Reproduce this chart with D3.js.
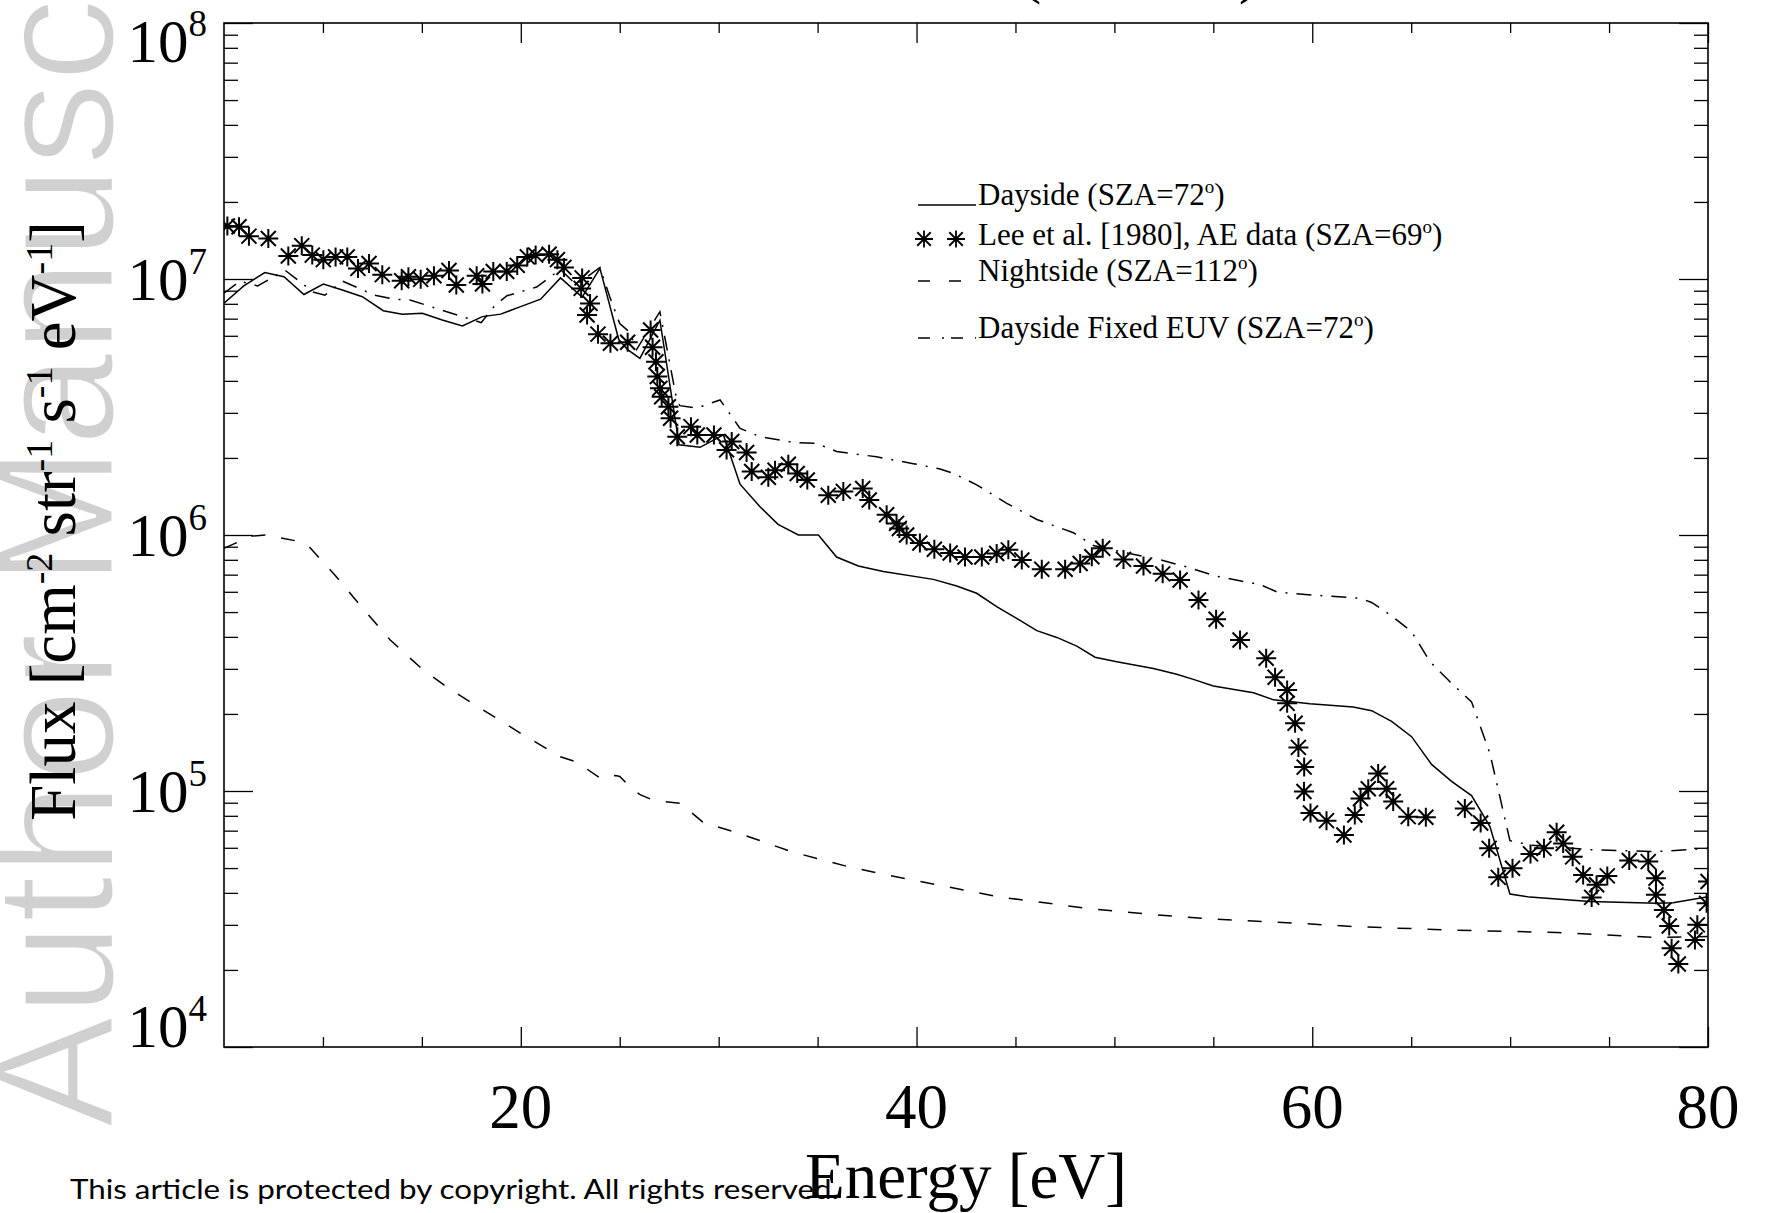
<!DOCTYPE html>
<html>
<head>
<meta charset="utf-8">
<script src="https://cdn.jsdelivr.net/npm/d3@7"></script>
<style>
  body { margin: 0; background: #fff; }
  svg { display: block; }
</style>
</head>
<body>
<svg id="chart" width="1766" height="1213"></svg>
<script>
// energy [eV] and flux [cm-2 str-1 s-1 eV-1]
var daysideEnergy = [5.0, 6.0, 7.06, 8.03, 9.04, 10.02, 10.98, 11.99, 13.05, 14.01,
    15.02, 16.03, 17.05, 18.06, 18.98, 19.99, 21.0, 22.01, 23.1, 24.0,
    24.95, 25.4, 26.02, 27.03, 28.0, 29.06, 30.24, 31.08, 32.09, 33.0,
    34.03, 35.04, 35.96, 37.06, 38.32, 40.85, 42.03, 43.04, 44.05, 45.06,
    46.08, 47.09, 48.1, 49.02, 50.12, 51.97, 53.15, 53.99, 55.0, 57.03,
    58.04, 59.88, 62.07, 63.0, 64.01, 65.02, 66.03, 67.04, 68.05, 68.98,
    69.99, 71.0, 74.03, 77.4, 78.24, 80.0]
var daysideFlux = [8.04e6, 9.4e6, 1.06e7, 1.02e7, 8.7e6, 9.55e6, 9.06e6, 8.53e6, 7.52e6, 7.29e6,
    7.35e6, 6.92e6, 6.55e6, 7.13e6, 7.29e6, 7.8e6, 8.34e6, 1.01e7, 8.5e6, 1.1e7,
    5.8e6, 5.3e6, 4.9e6, 6.9e6, 2.25e6, 2.2e6, 2.46e6, 1.58e6, 1.29e6, 1.1e6,
    1.0e6, 1.0e6, 8.2e5, 7.57e5, 7.2e5, 6.71e5, 6.32e5, 5.92e5, 5.25e5, 4.72e5,
    4.23e5, 3.98e5, 3.68e5, 3.33e5, 3.2e5, 3.01e5, 2.86e5, 2.73e5, 2.57e5, 2.42e5,
    2.27e5, 2.19e5, 2.13e5, 2.06e5, 1.87e5, 1.63e5, 1.27e5, 1.09e5, 9.6e4, 7.26e4,
    3.96e4, 3.85e4, 3.7e4, 3.64e4, 3.66e4, 3.86e4]

var fixedEnergy = [5.0, 5.8, 6.7, 8.1, 9.5, 10.1, 11.0, 12.6, 13.6, 14.4,
    16.8, 18.0, 18.7, 19.3, 20.8, 22.0, 22.8, 24.0, 24.5, 25.0,
    25.5, 25.85, 27.03, 27.88, 28.04, 28.89, 30.07, 31.08, 32.09, 33.77,
    34.95, 35.96, 37.98, 39.84, 41.19, 41.86, 43.04, 44.56, 46.08, 47.93,
    48.94, 50.62, 52.31, 53.66, 55.17, 57.36, 58.2, 59.05, 62.42, 63.0,
    64.01, 65.02, 65.95, 66.96, 68.05, 68.98, 69.99, 71.0, 74.03, 77.4, 80.0]
var fixedFlux = [8.8e6, 9.8e6, 9.4e6, 1.08e7, 8.9e6, 8.65e6, 9.8e6, 8.65e6, 8.34e6, 8.28e6,
    7.23e6, 6.75e6, 7.9e6, 8.6e6, 9.3e6, 1.09e7, 9.5e6, 1.11e7, 8.5e6, 6.7e6,
    6.2e6, 5.3e6, 7.45e6, 3.37e6, 3.2e6, 3.13e6, 3.37e6, 2.61e6, 2.42e6, 2.3e6,
    2.28e6, 2.12e6, 2.02e6, 1.9e6, 1.81e6, 1.74e6, 1.57e6, 1.33e6, 1.15e6, 1.02e6,
    9.1e5, 8.5e5, 8.0e5, 7.5e5, 6.9e5, 6.4e5, 6.0e5, 5.9e5, 5.66e5, 5.45e5,
    4.83e5, 4.19e5, 3.2e5, 2.67e5, 2.23e5, 1.4e5, 6.4e4, 6.15e4, 5.9e4, 5.8e4, 5.97e4]

var nightEnergy = [5.0, 6.4, 7.1, 8.6, 9.3, 10.6, 12.0, 13.4, 15.0, 16.2,
    17.5, 18.8, 20.1, 21.4, 22.0, 22.8, 24.04, 24.8, 25.0, 25.4,
    26.0, 26.7, 28.05, 28.5, 29.25, 30.75, 32.25, 33.65, 36.64, 39.6,
    44.14, 48.63, 51.73, 55.0, 59.38, 62.24, 67.29, 72.35, 77.4, 80.0]
var nightFlux = [8.87e5, 9.9e5, 1.0e6, 9.5e5, 9.0e5, 6.98e5, 5.18e5, 3.89e5, 3.0e5, 2.57e5,
    2.21e5, 1.92e5, 1.66e5, 1.45e5, 1.36e5, 1.3e5, 1.12e5, 1.15e5, 1.14e5, 1.06e5,
    9.7e4, 9.2e4, 8.96e4, 8.4e4, 7.5e4, 6.94e4, 6.34e4, 5.8e4, 5.04e4, 4.52e4,
    3.86e4, 3.48e4, 3.3e4, 3.16e4, 3.04e4, 2.95e4, 2.86e4, 2.8e4, 2.68e4, 2.7e4]

// Lee et al. [1980] AE data points
var leeEnergy = [5.17, 5.76, 6.26, 7.24, 8.25, 8.93, 9.46, 10.02, 10.64, 11.23,
    11.77, 12.33, 13.0, 13.98, 14.32, 14.94, 15.61, 16.37, 16.74, 17.77,
    18.06, 18.61, 19.29, 19.82, 20.33, 20.75, 21.43, 21.85, 22.18, 23.1,
    23.05, 23.5, 23.35, 23.9, 24.53, 25.4, 26.56, 26.66, 26.83, 26.9,
    27.03, 27.12, 27.46, 27.57, 27.91, 28.6, 28.92, 29.76, 30.66, 30.4,
    31.41, 31.67, 32.51, 32.85, 33.52, 33.97, 34.48, 35.54, 36.3, 37.28,
    37.61, 38.49, 38.99, 39.13, 39.5, 40.17, 40.9, 41.7, 42.45, 43.3,
    44.05, 44.64, 45.32, 46.33, 47.51, 48.27, 48.86, 49.41, 50.46, 51.47,
    52.44, 53.32, 54.25, 55.14, 56.35, 57.67, 58.12, 58.73, 58.73, 59.13,
    59.3, 59.59, 59.58, 59.91, 60.72, 61.6, 62.15, 62.44, 62.83, 63.33,
    63.76, 64.09, 64.85, 65.74, 67.71, 68.51, 68.94, 69.4, 70.12, 71.03,
    71.71, 72.35, 72.68, 73.16, 73.69, 74.12, 74.37, 74.91, 76.02, 76.98,
    77.37, 77.37, 77.77, 78.04, 78.16, 78.5, 79.34, 79.46, 79.93, 80.0]
var leeFlux = [1.61e7, 1.60e7, 1.47e7, 1.44e7, 1.23e7, 1.35e7, 1.24e7, 1.19e7, 1.22e7, 1.22e7,
    1.10e7, 1.15e7, 1.04e7, 9.85e6, 1.02e7, 9.97e6, 1.03e7, 1.08e7, 9.48e6, 1.03e7,
    9.56e6, 1.07e7, 1.07e7, 1.13e7, 1.22e7, 1.24e7, 1.25e7, 1.19e7, 1.11e7, 1.01e7,
    9.19e6, 8.03e6, 7.23e6, 6.09e6, 5.61e6, 5.66e6, 6.32e6, 5.41e6, 4.75e6, 4.16e6,
    3.74e6, 3.47e6, 3.17e6, 2.86e6, 2.42e6, 2.65e6, 2.46e6, 2.46e6, 2.32e6, 2.15e6,
    2.10e6, 1.77e6, 1.68e6, 1.79e6, 1.89e6, 1.74e6, 1.64e6, 1.43e6, 1.48e6, 1.52e6,
    1.37e6, 1.20e6, 1.11e6, 1.06e6, 1.00e6, 9.3e5, 8.8e5, 8.5e5, 8.2e5, 8.2e5,
    8.47e5, 8.75e5, 7.99e5, 7.35e5, 7.35e5, 7.74e5, 8.22e5, 8.87e5, 8.03e5, 7.57e5,
    7.05e5, 6.67e5, 5.57e5, 4.69e5, 3.89e5, 3.30e5, 2.78e5, 2.48e5, 2.20e5, 1.84e5,
    1.48e5, 1.24e5, 9.96e4, 8.2e4, 7.66e4, 6.73e4, 8.06e4, 9.35e4, 1.02e5, 1.17e5,
    1.02e5, 9.1e4, 7.94e4, 7.9e4, 8.55e4, 7.5e4, 5.97e4, 4.6e4, 4.99e4, 5.68e4,
    5.97e4, 6.9e4, 6.24e4, 5.53e4, 4.7e4, 3.84e4, 4.3e4, 4.66e4, 5.35e4, 5.3e4,
    4.56e4, 3.93e4, 3.43e4, 2.97e4, 2.43e4, 2.11e4, 2.62e4, 3.0e4, 3.64e4, 4.43e4]

// ticks and labels
var xMajorTicks = [20, 40, 60, 80]
var xMinorTicks = [10, 15, 25, 30, 35, 45, 50, 55, 65, 70, 75]
var yMajorTicks = [1e4, 1e5, 1e6, 1e7, 1e8]
var yExponents = ['4', '5', '6', '7', '8']
var legendLabels = ['Dayside (SZA=72°)', 'Lee et al. [1980], AE data (SZA=69°)',
    'Nightside (SZA=112°)', 'Dayside Fixed EUV (SZA=72°)']

var margin = {top: 23, right: 58, bottom: 166, left: 224},
    width = 1484,
    height = 1024;

var serif = "'Liberation Serif', 'Times New Roman', Times, serif";

var svg = d3.select('#chart');

// watermark (white outline thins the strokes)
svg.append('text')
    .attr('transform', 'translate(113,1128) rotate(-90)')
    .attr('font-family', "'Liberation Sans', Arial, sans-serif")
    .attr('font-size', 168)
    .attr('fill', '#d0d0d0')
    .attr('stroke', '#fff')
    .attr('stroke-width', 3)
    .text('Author Manuscript');

// title, cut by the top edge
svg.append('text')
    .attr('x', 1020)
    .attr('y', -9)
    .attr('font-family', serif)
    .attr('font-size', 64)
    .attr('textLength', 240)
    .attr('lengthAdjust', 'spacing')
    .text('(SZA=72°)');

var x = d3.scaleLinear()
    .domain([5, 80])
    .range([0, width]);

var y = d3.scaleLog()
    .domain([1e4, 1e8])
    .range([height, 0]);

var plot = svg.append('g')
    .attr('transform', 'translate(' + margin.left + ',' + margin.top + ')');

plot.append('clipPath').attr('id', 'clip')
    .append('rect')
    .attr('width', width)
    .attr('height', height);

// ticks (inward, IDL style)
function tickAxis(axis, values, size, ty) {
    plot.append('g')
        .attr('transform', 'translate(' + (ty[0]) + ',' + ty[1] + ')')
        .call(axis.tickValues(values).tickSize(-size).tickSizeOuter(0).tickFormat(''))
        .call(g => g.select('.domain').remove())
        .call(g => g.selectAll('line').attr('stroke-width', 1.3));
}
var yMinorTicks = y.ticks().filter(v => yMajorTicks.indexOf(v) < 0);

tickAxis(d3.axisBottom(x), xMinorTicks, 10, [0, height]);
tickAxis(d3.axisBottom(x), xMajorTicks, 20, [0, height]);
tickAxis(d3.axisTop(x), xMinorTicks, 10, [0, 0]);
tickAxis(d3.axisTop(x), xMajorTicks, 20, [0, 0]);
tickAxis(d3.axisLeft(y), yMinorTicks, 14, [0, 0]);
tickAxis(d3.axisLeft(y), yMajorTicks, 29, [0, 0]);
tickAxis(d3.axisRight(y), yMinorTicks, 14, [width, 0]);
tickAxis(d3.axisRight(y), yMajorTicks, 29, [width, 0]);

plot.append('rect')
    .attr('width', width)
    .attr('height', height)
    .attr('fill', 'none')
    .attr('stroke', '#000')
    .attr('stroke-width', 1.6);

// x tick labels
plot.selectAll('.xlabel')
    .data(xMajorTicks)
    .enter()
    .append('text')
    .attr('class', 'xlabel')
    .attr('x', d => x(d))
    .attr('y', height + 81)
    .attr('font-family', serif)
    .attr('font-size', 63)
    .attr('text-anchor', 'middle')
    .text(d => d);

// y tick labels 10^n
var ylab = plot.selectAll('.ylabel')
    .data(yMajorTicks)
    .enter()
    .append('text')
    .attr('class', 'ylabel')
    .attr('x', -17)
    .attr('y', function (d, i) {
        if (i === 0) return y(d);
        if (i === yMajorTicks.length - 1) return y(d) + 39;
        return y(d) + 21;
    })
    .attr('font-family', serif)
    .attr('font-size', 61)
    .attr('text-anchor', 'end');
ylab.append('tspan').text('10');
ylab.append('tspan')
    .attr('dy', -26)
    .attr('font-size', 37)
    .text((d, i) => yExponents[i]);

// data lines
var line = d3.line()
    .x(d => x(d[0]))
    .y(d => y(d[1]));

var lines = plot.append('g').attr('clip-path', 'url(#clip)');

lines.append('path')
    .datum(d3.zip(daysideEnergy, daysideFlux))
    .attr('d', line)
    .attr('fill', 'none')
    .attr('stroke', '#000')
    .attr('stroke-width', 1.5);

lines.append('path')
    .datum(d3.zip(fixedEnergy, fixedFlux))
    .attr('d', line)
    .attr('fill', 'none')
    .attr('stroke', '#000')
    .attr('stroke-width', 1.5)
    .attr('stroke-dasharray', '15,9,2,9');

lines.append('path')
    .datum(d3.zip(nightEnergy, nightFlux))
    .attr('d', line)
    .attr('fill', 'none')
    .attr('stroke', '#000')
    .attr('stroke-width', 1.5)
    .attr('stroke-dasharray', '14,16');

// asterisk symbol (plus and cross)
var star = 'M-10,0H10M0,-9.5V9.5M-7.5,-7.5L7.5,7.5M-7.5,7.5L7.5,-7.5';

lines.selectAll('.lee')
    .data(d3.zip(leeEnergy, leeFlux))
    .enter()
    .append('path')
    .attr('class', 'lee')
    .attr('d', star)
    .attr('transform', d => 'translate(' + x(d[0]) + ',' + y(d[1]) + ')')
    .attr('fill', 'none')
    .attr('stroke', '#000')
    .attr('stroke-width', 2);

// legend
var legendRows = [182, 222, 258, 315];
var legend = plot.append('g').attr('transform', 'translate(694,0)');

legend.append('line')
    .attr('x1', 0).attr('x2', 58)
    .attr('y1', legendRows[0]).attr('y2', legendRows[0])
    .attr('stroke', '#000').attr('stroke-width', 1.5);

legend.selectAll('.lstar')
    .data([6, 38])
    .enter()
    .append('path')
    .attr('class', 'lstar')
    .attr('d', star)
    .attr('transform', d => 'translate(' + d + ',' + (legendRows[1] - 6) + ') scale(0.9)')
    .attr('fill', 'none')
    .attr('stroke', '#000')
    .attr('stroke-width', 2);

legend.append('line')
    .attr('x1', 0).attr('x2', 44)
    .attr('y1', legendRows[2]).attr('y2', legendRows[2])
    .attr('stroke', '#000').attr('stroke-width', 1.5)
    .attr('stroke-dasharray', '12,19');

legend.append('line')
    .attr('x1', 0).attr('x2', 58)
    .attr('y1', legendRows[3]).attr('y2', legendRows[3])
    .attr('stroke', '#000').attr('stroke-width', 1.5)
    .attr('stroke-dasharray', '12,12,2,7');

var ltext = legend.selectAll('.ltext')
    .data(legendLabels)
    .enter()
    .append('text')
    .attr('class', 'ltext')
    .attr('x', 60)
    .attr('y', (d, i) => legendRows[i])
    .attr('font-family', serif)
    .attr('font-size', 31);
ltext.append('tspan').text(d => d.split('°')[0]);
ltext.append('tspan').attr('dy', -12).attr('font-size', 19).text('o');
ltext.append('tspan').attr('dy', 12).text(d => d.split('°')[1]);

// axis titles
svg.append('text')
    .attr('x', margin.left + width / 2)
    .attr('y', 1198)
    .attr('font-family', serif)
    .attr('font-size', 65)
    .attr('text-anchor', 'middle')
    .text('Energy [eV]');

var ytitle = svg.append('text')
    .attr('transform', 'translate(52,521) rotate(-90)')
    .attr('font-family', serif)
    .attr('font-size', 65)
    .attr('text-anchor', 'middle');
[['Flux [cm', '-2'], [' str', '-1'], [' s', '-1'], [' eV', '-1'], [']', '']].forEach(function (p) {
    ytitle.append('tspan').attr('dy', ytitle.node().childNodes.length ? 23 : 0).text(p[0]);
    if (p[1]) ytitle.append('tspan').attr('dy', -23).attr('font-size', 38).text(p[1]);
});

// footer
svg.append('text')
    .attr('x', 70)
    .attr('y', 1199)
    .attr('font-family', "Lato, 'Open Sans', sans-serif")
    .attr('font-size', 27)
    .attr('textLength', 769)
    .attr('lengthAdjust', 'spacingAndGlyphs')
    .text('This article is protected by copyright. All rights reserved.');
</script>
</body>
</html>
